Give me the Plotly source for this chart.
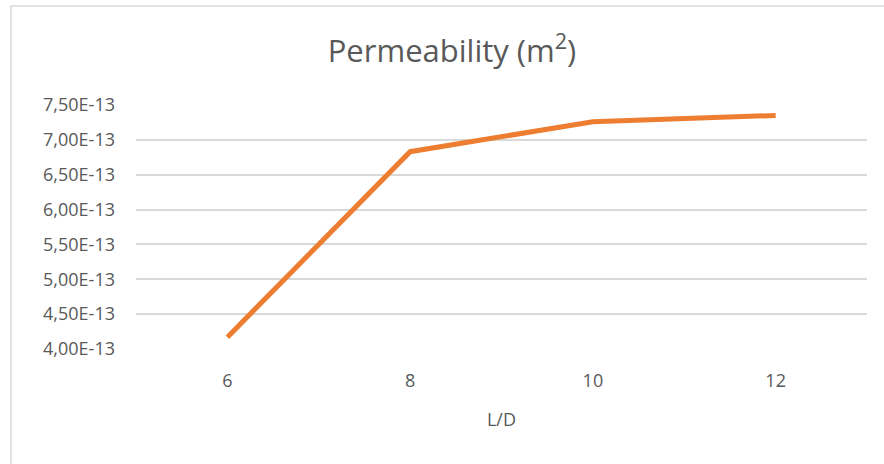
import plotly.graph_objects as go

# L/D ratios (categories) and measured permeability in m^2
ld_ratio = ["6", "8", "10", "12"]
permeability = [4.17e-13, 6.83e-13, 7.26e-13, 7.35e-13]

# y-axis ticks, labelled with a decimal comma
y_ticks = [4.0e-13, 4.5e-13, 5.0e-13, 5.5e-13, 6.0e-13, 6.5e-13, 7.0e-13, 7.5e-13]
y_tick_text = ["4,00E-13", "4,50E-13", "5,00E-13", "5,50E-13",
               "6,00E-13", "6,50E-13", "7,00E-13", "7,50E-13"]

W, H = 884, 464
M_L, M_R, M_T, M_B = 136, 17, 105, 115
FONT = "Open Sans"
TXT = "#595959"
GRID = "#D9D9D9"

fig = go.Figure()
fig.add_trace(go.Scatter(
    x=ld_ratio, y=permeability, mode="lines",
    line=dict(color="#ED7D31", width=5),
    cliponaxis=False, showlegend=False, hoverinfo="x+y",
))

# chart-area frame (left and top edges visible)
pw, ph = W - M_L - M_R, H - M_T - M_B
def px_x(p):
    return (p - M_L) / pw
def px_y(p):
    return (H - M_B - p) / ph
fig.add_shape(type="rect", xref="paper", yref="paper",
              x0=px_x(11), x1=px_x(W + 20), y0=px_y(H + 20), y1=px_y(6),
              line=dict(color=GRID, width=1.5), fillcolor="rgba(0,0,0,0)", layer="below")

fig.update_layout(
    width=W, height=H,
    margin=dict(l=M_L, r=M_R, t=M_T, b=M_B),
    paper_bgcolor="white", plot_bgcolor="white",
    font=dict(family=FONT, color=TXT, size=19),
    title=dict(text="Permeability (m<sup>2</sup>)", x=452 / W, xanchor="center",
               xref="container", y=1 - 51 / H, yref="container", yanchor="middle",
               font=dict(family=FONT, size=31, color=TXT)),
    xaxis=dict(type="category", range=[-0.5, 3.5], showgrid=False, zeroline=False,
               showline=False, ticks="", ticklabelstandoff=19,
               tickfont=dict(size=18, color=TXT),
               title=dict(text="L/D", standoff=22, font=dict(size=18, color=TXT))),
    yaxis=dict(range=[4.0e-13, 7.5e-13], tickvals=y_ticks, ticktext=y_tick_text,
               showgrid=True, gridcolor=GRID, gridwidth=1.5, zeroline=False,
               showline=False, ticks="", ticklabelstandoff=20,
               tickfont=dict(size=18, color=TXT)),
)

fig.write_html("out.html")
